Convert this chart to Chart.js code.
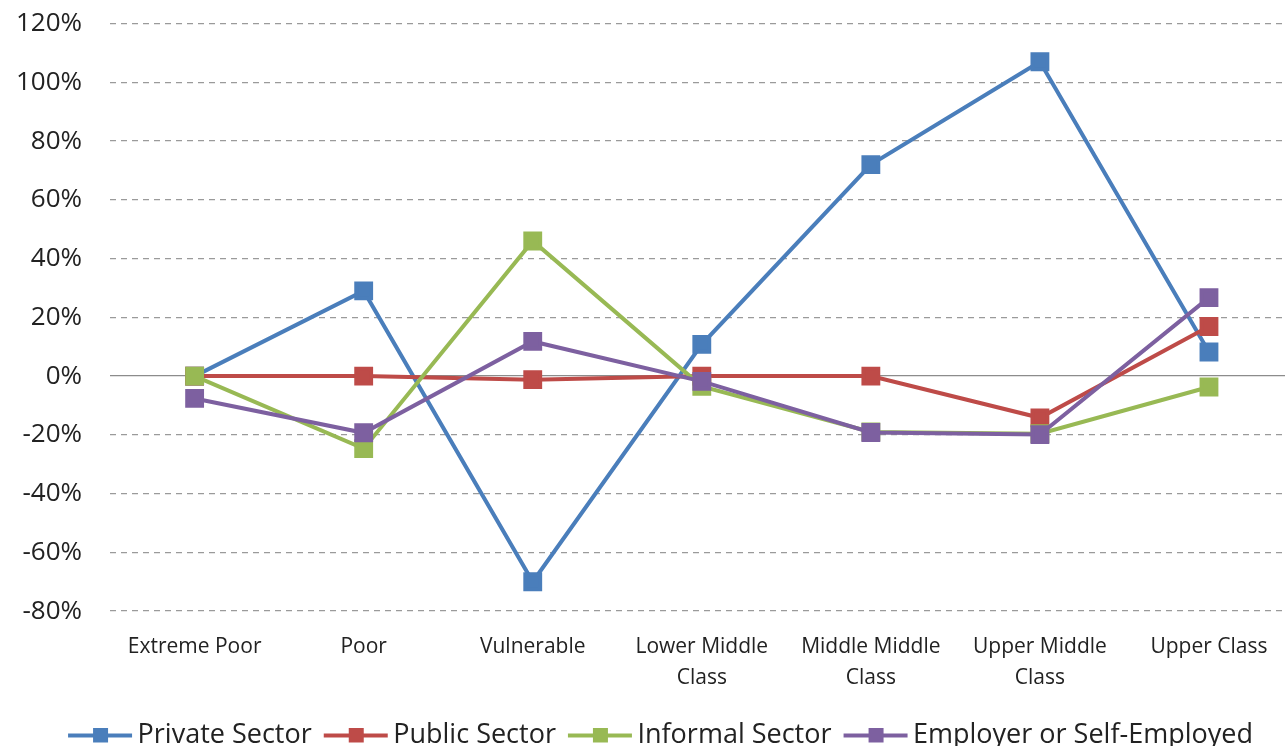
<!DOCTYPE html>
<html>
<head>
<meta charset="utf-8">
<script src="https://cdn.jsdelivr.net/npm/chart.js@4"></script>
<style>
  html, body { margin: 0; padding: 0; background: #fff; overflow: hidden; width: 1285px; height: 746px; }
  #wrap { position: absolute; left: -12px; top: -20px; width: 1320px; height: 779px; }
</style>
</head>
<body>
<div id="wrap"><canvas id="chart" width="1320" height="779"></canvas></div>
<script>
// categories on the x axis
const categories = [
  'Extreme Poor', 'Poor', 'Vulnerable', ['Lower Middle', 'Class'],
  ['Middle Middle', 'Class'], ['Upper Middle', 'Class'], 'Upper Class'
];

// series values (percent)
const privateSector = [0, 29, -70, 10.8, 72, 107, 8.2];
const publicSector = [0, 0, -1.2, 0, 0, -14.2, 16.9];
const informalSector = [0, -24.7, 46, -3.5, -19, -19.6, -3.7];
const employerSelf = [-7.6, -19.3, 11.8, -1.8, -19.2, -19.9, 26.7];

const seriesNames = ['Private Sector', 'Public Sector', 'Informal Sector', 'Employer or Self-Employed'];
const seriesColors = ['#4A7EBB', '#BE4B48', '#98B954', '#7D60A0'];

// y axis ticks
const yMin = -80, yMax = 120, yStep = 20;

// legend icon: line with a square marker, offset so it sits right after the previous label
function legendIcon(color) {
  const c = document.createElement('canvas');
  c.width = 80; c.height = 16;
  const g = c.getContext('2d');
  g.fillStyle = color;
  g.fillRect(14, 6, 64, 4);
  g.fillRect(39, 0, 15, 15);
  return c;
}

// nudge the legend a bit to the right, like the original
const legendShift = {
  id: 'legendShift',
  afterLayout(chart) {
    chart.legend.left += 13;
    chart.legend.right += 13;
  }
};

const seriesData = [privateSector, publicSector, informalSector, employerSelf];

const ctx = document.getElementById('chart').getContext('2d');
new Chart(ctx, {
  type: 'line',
  data: {
    labels: categories,
    datasets: seriesData.map((d, i) => ({
      label: seriesNames[i],
      data: d,
      borderColor: seriesColors[i],
      backgroundColor: seriesColors[i],
      borderWidth: 4,
      pointStyle: 'rect',
      pointRadius: 10.5,
      pointHoverRadius: 10.5,
      tension: 0,
      order: 4 - i,
      legendIcon: legendIcon(seriesColors[i])
    }))
  },
  plugins: [legendShift],
  options: {
    responsive: false,
    animation: false,
    layout: { padding: { left: 0, right: 5, top: 0, bottom: 0 } },
    scales: {
      x: {
        offset: true,
        grid: { display: false, drawTicks: false },
        border: { display: false },
        ticks: {
          color: '#222',
          font: { family: 'Open Sans', size: 21, lineHeight: 1.45 },
          maxRotation: 0,
          autoSkip: false,
          padding: 21
        }
      },
      y: {
        min: yMin,
        max: yMax,
        grid: {
          drawTicks: false,
          color: ctx => ctx.tick && ctx.tick.value === 0 ? '#8c8c8c' : '#9a9a9a',
          lineWidth: 1.3
        },
        border: {
          display: false,
          dash: ctx => ctx.tick && ctx.tick.value === 0 ? [] : [6, 5]
        },
        ticks: {
          stepSize: yStep,
          color: '#222',
          font: { family: 'Open Sans', size: 26 },
          padding: 28,
          callback: v => v + '%'
        }
      }
    },
    plugins: {
      tooltip: { enabled: false },
      legend: {
        position: 'bottom',
        labels: {
          usePointStyle: true,
          pointStyleWidth: 60,
          color: '#222',
          font: { family: 'Open Sans', size: 27 },
          padding: 8,
          generateLabels: chart => chart.data.datasets.map((ds, i) => ({
            text: ds.label,
            fillStyle: ds.borderColor,
            strokeStyle: ds.borderColor,
            lineWidth: 0,
            pointStyle: ds.legendIcon,
            fontColor: '#222',
            hidden: false,
            datasetIndex: i
          }))
        }
      }
    }
  }
});
</script>
</body>
</html>
